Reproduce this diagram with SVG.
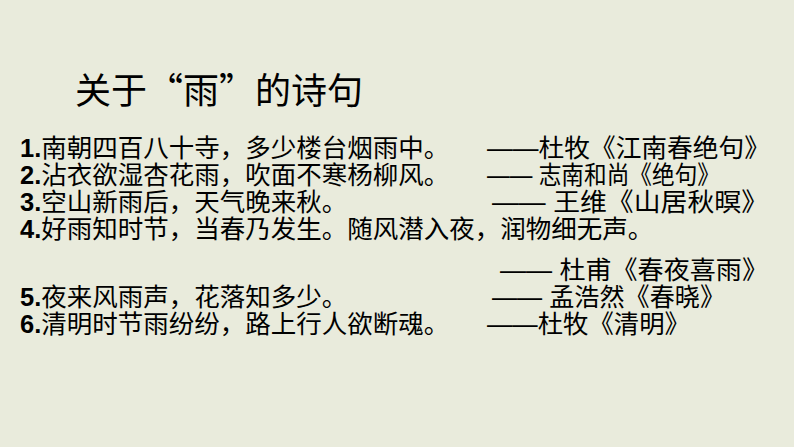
<svg xmlns="http://www.w3.org/2000/svg" width="794" height="447" viewBox="0 0 794 447">
<style>
text{font-family:"Liberation Sans","Noto Sans CJK SC",sans-serif;fill:#000}
.t{font-size:25.5px}
.n{font-weight:bold}
.h{font-size:36px;font-family:"Noto Sans CJK SC",sans-serif}
</style>
<rect width="794" height="447" fill="#e9ebdc"/>
<g id="title"><text class="h" x="75" y="104">关于“雨”的诗句</text></g>
<g id="poems">
<text class="t" x="20" y="157"><tspan class="n">1.</tspan>南朝四百八十寺，多少楼台烟雨中。</text>
<text class="t" x="487" y="157" textLength="283" lengthAdjust="spacingAndGlyphs">——杜牧《江南春绝句》</text>
<text class="t" x="20" y="184"><tspan class="n">2.</tspan>沾衣欲湿杏花雨，吹面不寒杨柳风。</text>
<text class="t" x="487" y="184" textLength="233" lengthAdjust="spacingAndGlyphs">—— 志南和尚《绝句》</text>
<text class="t" x="20" y="211"><tspan class="n">3.</tspan>空山新雨后，天气晚来秋。</text>
<text class="t" x="492" y="211" textLength="276" lengthAdjust="spacingAndGlyphs">—— 王维《山居秋暝》</text>
<text class="t" x="20" y="238"><tspan class="n">4.</tspan>好雨知时节，当春乃发生。随风潜入夜，润物细无声。</text>
<text class="t" x="500" y="279" textLength="268" lengthAdjust="spacingAndGlyphs">—— 杜甫《春夜喜雨》</text>
<text class="t" x="20" y="306"><tspan class="n">5.</tspan>夜来风雨声，花落知多少。</text>
<text class="t" x="492" y="306" textLength="233" lengthAdjust="spacingAndGlyphs">—— 孟浩然《春晓》</text>
<text class="t" x="20" y="333"><tspan class="n">6.</tspan>清明时节雨纷纷，路上行人欲断魂。</text>
<text class="t" x="487" y="333" textLength="203" lengthAdjust="spacingAndGlyphs">——杜牧《清明》</text>
</g>
</svg>
